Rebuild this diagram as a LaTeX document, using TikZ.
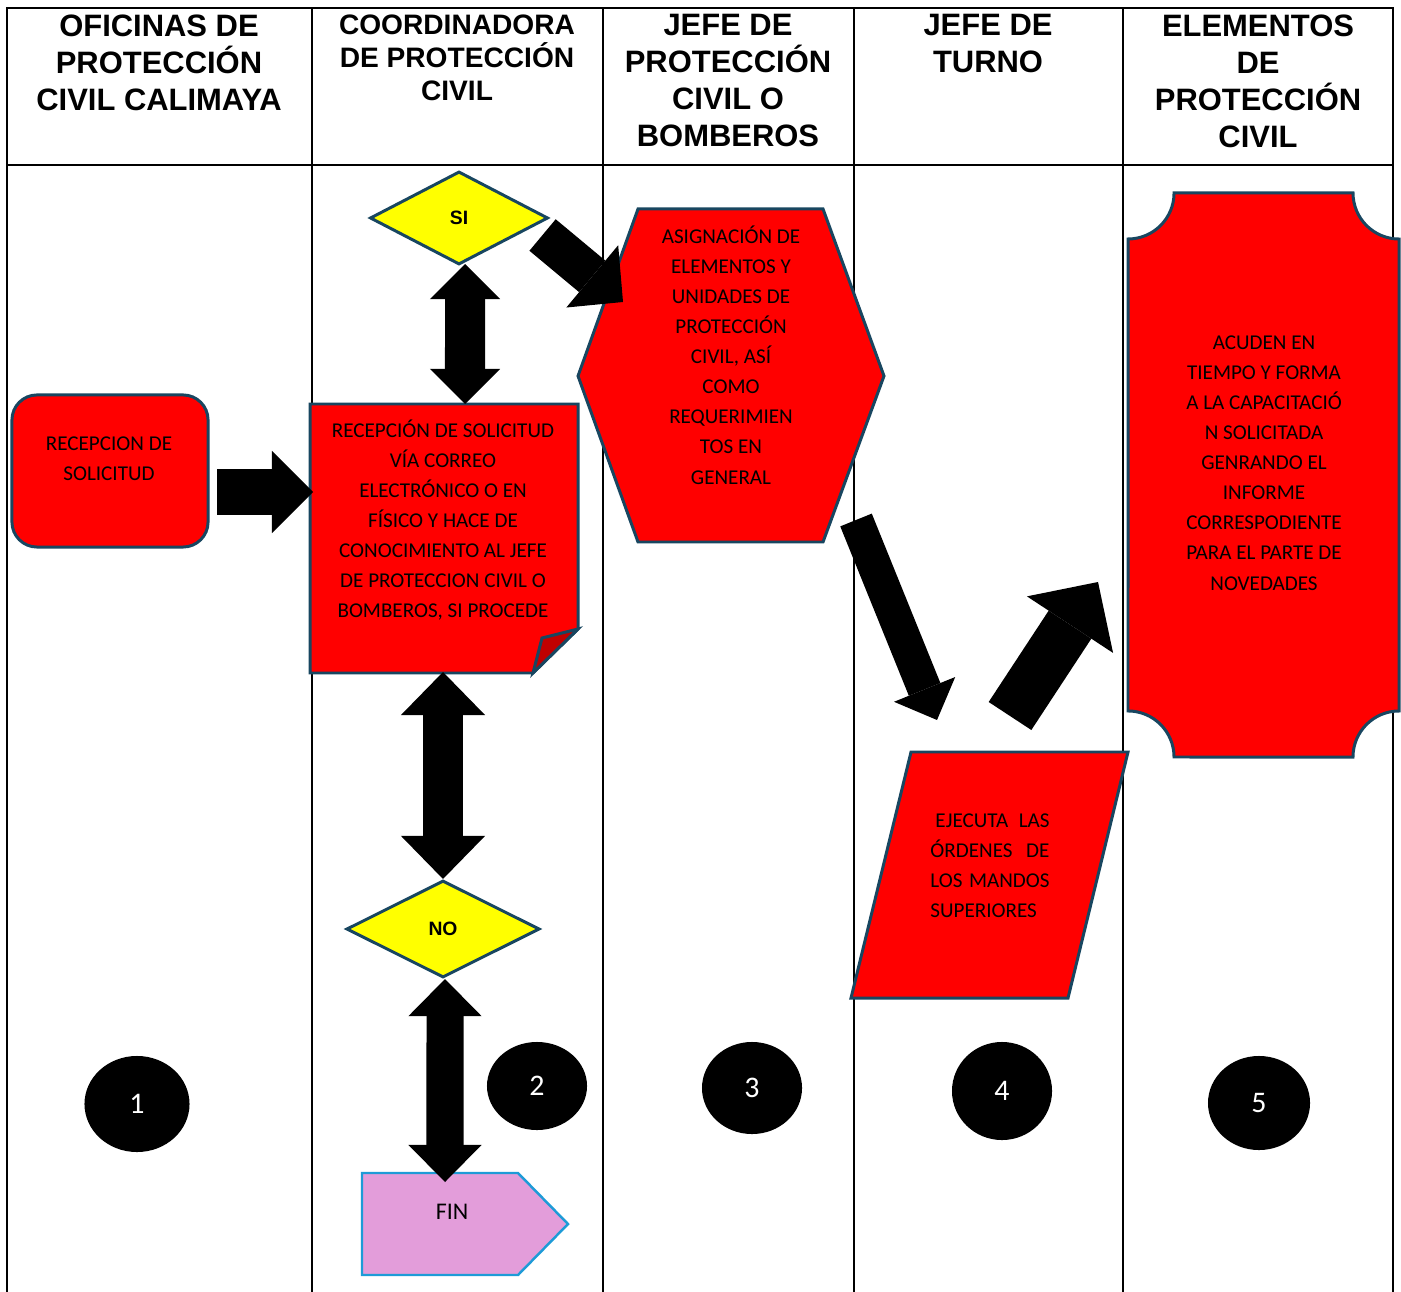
\documentclass[tikz,border=0pt]{standalone}
\usepackage{fontspec}
\setmainfont{Carlito}
\newfontfamily\headfont{Liberation Sans}
\usetikzlibrary{positioning,shapes.geometric,arrows.meta}
\definecolor{rojo}{RGB}{255,0,0}
\definecolor{pliegue}{RGB}{192,0,0}
\definecolor{orilla}{RGB}{24,70,96}
\definecolor{amarillo}{RGB}{255,255,0}
\definecolor{rosa}{RGB}{227,157,218}
\definecolor{celeste}{RGB}{30,155,215}
\tikzset{head/.style={font=\headfont\bfseries\fontsize{8.8}{10.5}\selectfont,align=center,anchor=north,inner sep=0pt},
	txt/.style={font=\fontsize{6}{8.55}\selectfont,align=center,inner sep=0pt},
	caja/.style={draw=orilla,fill=rojo,line width=0.85pt,line join=miter},
	decision/.style={diamond,draw=orilla,fill=amarillo,line width=0.85pt,inner sep=0pt,font=\headfont\bfseries\fontsize{5.5}{6}\selectfont},
	paso/.style={ellipse,fill=black,text=white,inner sep=0pt,font=\fontsize{8.5}{10}\selectfont},
	bloque/.style n args={3}{line width=#1,-{Triangle[width=#2,length=#3,line width=0pt]}},
	doble/.style n args={3}{line width=#1,{Triangle[width=#2,length=#3,line width=0pt]}-{Triangle[width=#2,length=#3,line width=0pt]}},
}

\begin{document}
\begin{tikzpicture}[x=0.01cm,y=-0.01cm]
\useasboundingbox (0,0) rectangle (1401,1292);

%% tabla
\draw[line width=0.8pt] (7,1292) -- (7,8) -- (1393,8) -- (1393,1292);
\draw[line width=0.8pt] (7,165) -- (1393,165);
\foreach \x in {312,603,854,1123}
	\draw[line width=0.6pt] (\x,8) -- (\x,1292);

\node[head] (oficinas) at (159,14) {OFICINAS DE\\PROTECCIÓN\\CIVIL CALIMAYA};
\node[head,font=\headfont\bfseries\fontsize{8}{9.4}\selectfont] (coordinadora) at (457,14) {COORDINADORA\\DE PROTECCIÓN\\CIVIL};
\node[head] (jefepc) at (728,14) {JEFE DE\\PROTECCIÓN\\CIVIL O\\BOMBEROS};
\node[head] (jefeturno) at (988,14) {JEFE DE\\TURNO};
\node[head] (elementos) at (1258,14) {ELEMENTOS\\DE\\PROTECCIÓN\\CIVIL};

%% columna 1
\node[caja,rounded corners=0.25cm,minimum width=1.96cm,minimum height=1.52cm] (solicitud) at (110,471) {};
\node[txt] (tsolicitud) at (109,459) {RECEPCION DE\\SOLICITUD};
\coordinate (sole) at (217,492);

%% columna 2
\draw[caja] (310,404) -- (578,404) -- (578,629) -- (533,673) -- (310,673) -- cycle;
\draw[caja,fill=pliegue] (578,629) -- (542,638) -- (533,673) -- cycle;
\coordinate (recn) at (465,404);
\coordinate (recw) at (313,492);
\coordinate (recs) at (443,672);
\node[txt] (recepcion) at (443,520) {RECEPCIÓN DE SOLICITUD\\VÍA CORREO\\ELECTRÓNICO O EN\\FÍSICO Y HACE DE\\CONOCIMIENTO AL JEFE\\DE PROTECCION CIVIL O\\BOMBEROS, SI PROCEDE};

\node[decision,minimum width=1.78cm,minimum height=0.93cm] (si) at (459,218) {SI};
\node[decision,minimum width=1.93cm,minimum height=0.97cm] (no) at (443,929) {NO};

\draw[draw=celeste,fill=rosa,line width=0.7pt] (362,1173) -- (518,1173) -- (568,1224) -- (518,1275) -- (362,1275) -- cycle;
\coordinate (finn) at (445,1182);
\node[font=\fontsize{6.8}{8}\selectfont,inner sep=0pt] (fin) at (452,1212) {FIN};

%% columna 3
\draw[caja] (638,209) -- (823,209) -- (884,376) -- (823,542) -- (638,542) -- (578,376) -- cycle;
\coordinate (asigw) at (623,302);
\coordinate (asigse) at (856,520);
\node[txt] (asignacion) at (731,355) {ASIGNACIÓN DE\\ELEMENTOS Y\\UNIDADES DE\\PROTECCIÓN\\CIVIL, ASÍ\\COMO\\REQUERIMIEN\\TOS EN\\GENERAL};

%% columna 4
\draw[caja] (911,752) -- (1128,752) -- (1068,998) -- (851,998) -- cycle;
\coordinate (ejn) at (937,720);
\coordinate (ejne) at (1010,716);
\node[txt,align=left] (ejecuta) at (990,866) {\hspace*{0.05cm}\makebox[1.14cm][s]{EJECUTA LAS}\\\makebox[1.19cm][s]{ÓRDENES DE}\\\makebox[1.19cm][s]{LOS MANDOS}\\SUPERIORES};

%% columna 5
\draw[caja] (1264,193) -- (1353,193) arc (180:270:0.46cm) -- (1399,711) arc (90:180:0.46cm)
	-- (1174,757) arc (0:90:0.46cm) -- (1128,239) arc (270:360:0.46cm) -- cycle;
\coordinate (acw) at (1098,582);
\node[txt] (acuden) at (1264,463) {ACUDEN EN\\TIEMPO Y FORMA\\A LA CAPACITACIÓ\\N SOLICITADA\\GENRANDO EL\\INFORME\\CORRESPODIENTE\\PARA EL PARTE DE\\NOVEDADES};

%% flechas
\draw[bloque={0.45cm}{0.82cm}{0.41cm}] (sole) -- (recw);
\draw[doble={0.4cm}{0.7cm}{0.35cm}] ([xshift=0.06cm,yshift=0.02cm]si.south) -- (recn);
\draw[doble={0.39cm}{0.84cm}{0.43cm}] (recs) -- (no.north);
\draw[doble={0.37cm}{0.73cm}{0.37cm}] ([xshift=0.02cm]no.south) -- (finn);
\draw[bloque={0.41cm}{0.81cm}{0.4cm}] ([xshift=-0.07cm,yshift=-0.17cm]si.east) -- (asigw);
\draw[bloque={0.34cm}{0.66cm}{0.33cm}] (asigse) -- (ejn);
\draw[bloque={0.51cm}{1.03cm}{0.51cm}] (ejne) -- (acw);

%% pasos
\node[paso,minimum width=1.05cm,minimum height=0.96cm] (p1) at (137,1104) {1};
\node[paso,minimum width=1.0cm,minimum height=0.88cm] (p2) at (537,1086) {2};
\node[paso,minimum width=1.0cm,minimum height=0.92cm] (p3) at (752,1088) {3};
\node[paso,minimum width=1.0cm,minimum height=0.98cm] (p4) at (1002,1091) {4};
\node[paso,minimum width=1.02cm,minimum height=0.94cm] (p5) at (1259,1103) {5};
\end{tikzpicture}
\end{document}
